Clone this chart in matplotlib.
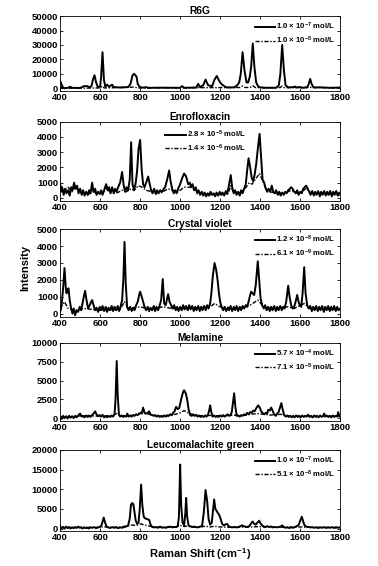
import matplotlib
matplotlib.use('Agg')
import matplotlib.pyplot as plt
import numpy as np

plt.rcParams['font.family'] = 'Liberation Sans'
plt.rcParams['font.weight'] = 'bold'
plt.rcParams['mathtext.fontset'] = 'custom'
plt.rcParams['mathtext.rm'] = 'Liberation Sans:bold'
plt.rcParams['mathtext.bf'] = 'Liberation Sans:bold'
plt.rcParams['mathtext.default'] = 'regular'

# R6G
r6g_hi = [(400, 5000), (405, 3500), (412, 1000), (420, 0), (440, 300), (450, 1000), (460, 300),
          (500, 200), (520, 1500), (535, 1500), (550, 500), (558, 2000), (564, 6000), (572, 9000),
          (580, 4000), (588, 1000), (600, 1000), (605, 8000), (612, 25000), (619, 6000), (626, 1000),
          (635, 2500), (645, 1000), (655, 2000), (660, 2500), (668, 800), (700, 500), (740, 800),
          (752, 3000), (762, 9000), (770, 10000), (776, 9000), (782, 8000), (788, 3000), (798, 800),
          (820, 400), (830, 800), (840, 300), (900, 400), (1000, 300), (1010, 1500), (1020, 300),
          (1080, 500), (1090, 3000), (1100, 800), (1115, 2000), (1127, 6000), (1140, 2000),
          (1160, 1500), (1172, 6000), (1183, 8500), (1192, 6000), (1200, 4000), (1210, 2500),
          (1230, 600), (1270, 600), (1285, 2000), (1295, 4000), (1303, 10000), (1312, 25000),
          (1322, 12000), (1332, 4000), (1340, 4000), (1348, 8000), (1355, 15000), (1363, 31000),
          (1371, 15000), (1380, 4000), (1392, 800), (1420, 300), (1480, 300), (1493, 2000),
          (1501, 10000), (1510, 30000), (1519, 12000), (1527, 2000), (1540, 600), (1570, 800),
          (1575, 1200), (1580, 500), (1600, 800), (1610, 300), (1635, 600), (1643, 3000),
          (1650, 6500), (1657, 3000), (1667, 500), (1700, 600), (1750, 300), (1800, 500)]
r6g_lo = [(400, 800), (420, 0), (600, 200), (612, 1500), (620, 200), (770, 800), (790, 200),
          (1300, 500), (1312, 1500), (1325, 500), (1350, 600), (1363, 1800), (1375, 500),
          (1500, 500), (1510, 1500), (1520, 400), (1650, 600), (1800, 200)]

# Enrofloxacin
enro_hi = [(400, 1000), (405, 400), (410, 700), (418, 200), (425, 600), (432, 300), (440, 500),
           (448, 150), (455, 700), (462, 500), (470, 1000), (478, 600), (485, 800), (492, 300),
           (500, 600), (508, 200), (515, 500), (522, 150), (530, 400), (538, 200), (545, 500),
           (552, 300), (560, 1000), (567, 400), (575, 600), (582, 200), (590, 400), (598, 250),
           (605, 500), (612, 200), (620, 500), (630, 900), (638, 500), (645, 700), (652, 300),
           (660, 700), (668, 300), (675, 600), (682, 400), (690, 700), (700, 1000), (710, 1700),
           (718, 800), (725, 400), (732, 700), (740, 500), (748, 1200), (755, 3650), (762, 900),
           (770, 500), (778, 1000), (785, 1800), (792, 3200), (800, 3800), (808, 1800), (815, 900),
           (822, 700), (830, 1000), (840, 1400), (848, 900), (855, 500), (862, 300), (870, 600),
           (878, 250), (885, 500), (892, 300), (900, 500), (910, 400), (918, 600), (925, 700),
           (935, 1200), (945, 1800), (952, 1100), (960, 600), (968, 300), (975, 500), (982, 300),
           (990, 600), (1000, 900), (1010, 1300), (1020, 1600), (1030, 1400), (1040, 900),
           (1048, 1000), (1055, 700), (1062, 900), (1070, 500), (1078, 700), (1085, 300),
           (1092, 500), (1100, 200), (1108, 400), (1115, 150), (1122, 350), (1130, 100),
           (1138, 300), (1145, 150), (1152, 400), (1160, 200), (1168, 300), (1175, 100),
           (1182, 350), (1190, 150), (1198, 400), (1205, 200), (1212, 350), (1220, 150),
           (1228, 450), (1235, 250), (1242, 700), (1253, 1500), (1260, 700), (1268, 300),
           (1275, 500), (1282, 200), (1290, 400), (1298, 150), (1305, 500), (1312, 300),
           (1320, 600), (1328, 900), (1335, 1800), (1342, 2600), (1350, 2000), (1358, 1300),
           (1365, 1100), (1372, 1500), (1380, 2200), (1388, 3200), (1397, 4200), (1405, 2600),
           (1412, 1200), (1420, 1000), (1428, 600), (1435, 400), (1442, 600), (1450, 400),
           (1458, 800), (1465, 400), (1472, 300), (1480, 500), (1488, 200), (1495, 400),
           (1502, 150), (1510, 350), (1518, 200), (1525, 400), (1532, 300), (1540, 500),
           (1548, 600), (1555, 700), (1562, 600), (1570, 400), (1578, 300), (1585, 500),
           (1592, 200), (1600, 400), (1608, 300), (1615, 600), (1622, 700), (1630, 800),
           (1638, 600), (1645, 400), (1652, 200), (1660, 450), (1668, 150), (1675, 400),
           (1682, 200), (1690, 450), (1698, 100), (1705, 400), (1712, 200), (1720, 450),
           (1728, 150), (1735, 400), (1742, 200), (1750, 450), (1758, 100), (1765, 400),
           (1772, 200), (1780, 450), (1788, 150), (1795, 350), (1800, 200)]
enro_lo = [(400, 600), (420, 500), (440, 700), (460, 400), (475, 700), (490, 500), (510, 300),
           (540, 200), (560, 500), (580, 300), (610, 300), (630, 600), (650, 400), (680, 300),
           (710, 500), (730, 400), (755, 600), (770, 500), (790, 800), (810, 700), (830, 500),
           (860, 400), (900, 300), (940, 600), (960, 500), (990, 400), (1020, 700), (1050, 700),
           (1080, 500), (1110, 300), (1150, 200), (1200, 200), (1240, 300), (1253, 800),
           (1265, 400), (1300, 300), (1330, 700), (1345, 1000), (1360, 900), (1375, 1200),
           (1397, 1600), (1410, 1200), (1425, 700), (1450, 400), (1480, 300), (1520, 300),
           (1555, 500), (1590, 300), (1630, 600), (1660, 300), (1700, 300), (1750, 250), (1800, 250)]

# Crystal violet
cv_hi = [(400, 100), (405, 300), (410, 800), (415, 1500), (422, 2700), (428, 1600), (432, 1200),
         (437, 1400), (442, 1500), (448, 800), (455, 300), (462, 0), (468, 300), (475, -100),
         (482, 200), (490, 100), (498, 400), (505, 200), (512, 600), (520, 1100), (525, 1350),
         (532, 800), (540, 300), (548, 500), (555, 700), (560, 800), (567, 500), (575, 200),
         (582, 350), (590, 100), (598, 400), (605, 200), (612, 450), (620, 150), (628, 400),
         (635, 100), (642, 350), (650, 200), (658, 450), (665, 150), (672, 400), (680, 200),
         (688, 450), (695, 150), (702, 400), (710, 800), (716, 2000), (722, 4250), (728, 1800),
         (735, 400), (742, 200), (750, 400), (758, 150), (765, 350), (772, 200), (780, 500),
         (788, 700), (795, 1100), (800, 1300), (808, 1000), (815, 700), (822, 400), (830, 200),
         (838, 400), (845, 150), (852, 350), (860, 200), (868, 450), (875, 150), (882, 400),
         (890, 200), (898, 500), (905, 800), (913, 2050), (920, 600), (928, 500), (935, 900),
         (940, 1150), (947, 700), (955, 500), (962, 300), (970, 500), (978, 200), (985, 400),
         (992, 150), (1000, 400), (1008, 200), (1015, 500), (1022, 250), (1030, 450), (1038, 200),
         (1045, 500), (1052, 250), (1060, 450), (1068, 150), (1075, 400), (1082, 200), (1090, 450),
         (1098, 150), (1105, 400), (1112, 200), (1120, 450), (1128, 200), (1135, 500), (1142, 300),
         (1150, 600), (1156, 1200), (1163, 2200), (1172, 3000), (1180, 2600), (1187, 2000),
         (1194, 1200), (1200, 700), (1207, 400), (1215, 200), (1222, 400), (1230, 150),
         (1238, 350), (1245, 200), (1252, 450), (1260, 150), (1268, 400), (1275, 200), (1282, 450),
         (1290, 150), (1298, 400), (1305, 200), (1312, 450), (1320, 300), (1328, 500), (1335, 400),
         (1342, 700), (1350, 1100), (1355, 1300), (1362, 1200), (1370, 1100), (1378, 1700),
         (1388, 3100), (1395, 2000), (1402, 900), (1410, 500), (1418, 300), (1425, 500),
         (1432, 200), (1440, 400), (1448, 150), (1455, 400), (1462, 200), (1470, 450), (1478, 150),
         (1485, 400), (1492, 200), (1500, 450), (1508, 200), (1515, 400), (1522, 300), (1530, 700),
         (1535, 1200), (1540, 1650), (1547, 1000), (1555, 500), (1562, 300), (1570, 400),
         (1577, 700), (1585, 1100), (1592, 700), (1598, 500), (1605, 400), (1612, 1200),
         (1620, 2750), (1627, 1200), (1635, 500), (1642, 300), (1650, 450), (1658, 150),
         (1665, 400), (1672, 200), (1680, 450), (1688, 150), (1695, 400), (1702, 200), (1710, 450),
         (1718, 100), (1725, 400), (1732, 200), (1740, 450), (1748, 150), (1755, 400), (1762, 200),
         (1770, 450), (1778, 150), (1785, 400), (1792, 200), (1800, 300)]
cv_lo = [(400, 300), (422, 700), (440, 300), (480, 200), (520, 300), (560, 250), (600, 200),
         (700, 250), (722, 700), (740, 300), (800, 400), (850, 250), (913, 400), (960, 300),
         (1050, 300), (1150, 400), (1172, 600), (1200, 400), (1300, 300), (1350, 500),
         (1388, 800), (1410, 500), (1450, 300), (1540, 400), (1570, 300), (1620, 600),
         (1650, 300), (1720, 250), (1800, 250)]

# Melamine
mel_hi = [(400, 200), (408, -100), (415, 300), (422, 0), (430, 250), (438, -50), (445, 300),
          (452, 50), (460, 250), (468, 0), (475, 300), (482, 100), (490, 350), (500, 600),
          (508, 200), (515, 300), (522, 100), (530, 350), (538, 150), (545, 350), (552, 150),
          (560, 400), (567, 600), (575, 900), (582, 500), (590, 250), (598, 400), (605, 200),
          (612, 450), (620, 100), (628, 300), (635, 100), (642, 300), (650, 150), (658, 350),
          (665, 200), (672, 500), (677, 2500), (683, 7600), (688, 3000), (694, 500), (700, 200),
          (708, 350), (715, 150), (722, 300), (730, 200), (736, 600), (742, 200), (750, 350),
          (758, 200), (765, 400), (772, 300), (780, 500), (788, 400), (795, 600), (802, 700),
          (810, 800), (815, 1400), (822, 700), (830, 600), (838, 700), (845, 900), (852, 500),
          (860, 400), (868, 300), (875, 400), (882, 200), (890, 350), (898, 150), (905, 300),
          (912, 150), (920, 350), (928, 200), (935, 400), (942, 300), (950, 500), (958, 400),
          (965, 700), (972, 900), (980, 1500), (988, 1200), (995, 1300), (1005, 2500),
          (1015, 3500), (1020, 3700), (1028, 3300), (1035, 2500), (1042, 1200), (1050, 400),
          (1058, 300), (1065, 500), (1072, 300), (1080, 450), (1088, 200), (1095, 350),
          (1102, 150), (1110, 300), (1118, 150), (1125, 350), (1132, 200), (1140, 500),
          (1145, 1000), (1150, 1700), (1155, 900), (1162, 200), (1170, 350), (1178, 150),
          (1185, 300), (1192, 150), (1200, 350), (1208, 200), (1215, 400), (1222, 200),
          (1230, 350), (1238, 500), (1245, 300), (1252, 400), (1258, 800), (1265, 2200),
          (1270, 3300), (1276, 1500), (1283, 300), (1290, 350), (1298, 200), (1305, 400),
          (1312, 300), (1320, 500), (1328, 400), (1335, 700), (1342, 500), (1350, 800),
          (1358, 700), (1365, 1000), (1372, 900), (1380, 1300), (1390, 1700), (1398, 1400),
          (1405, 900), (1412, 700), (1420, 500), (1428, 700), (1435, 600), (1440, 1100),
          (1448, 1000), (1455, 1400), (1462, 1000), (1470, 500), (1478, 300), (1485, 600),
          (1492, 800), (1500, 1500), (1506, 2000), (1512, 1200), (1520, 400), (1528, 200),
          (1535, 350), (1542, 150), (1550, 300), (1558, 100), (1565, 300), (1572, 100),
          (1580, 350), (1588, 150), (1595, 300), (1602, 100), (1610, 350), (1618, 150),
          (1625, 300), (1632, 200), (1640, 450), (1648, 150), (1655, 300), (1662, 100),
          (1670, 350), (1678, 150), (1685, 300), (1692, 100), (1700, 350), (1708, 150),
          (1715, 300), (1720, 600), (1725, 200), (1732, 350), (1740, 150), (1748, 300),
          (1755, 100), (1762, 350), (1770, 150), (1778, 300), (1785, 200), (1790, 800),
          (1795, 200), (1800, 350)]
mel_lo = [(400, 200), (450, 150), (500, 300), (560, 300), (600, 250), (650, 300), (683, 600),
          (700, 300), (750, 300), (800, 600), (830, 600), (860, 400), (900, 250), (950, 300),
          (1000, 700), (1020, 1000), (1040, 700), (1080, 300), (1150, 350), (1200, 300),
          (1270, 400), (1300, 300), (1350, 500), (1390, 600), (1420, 500), (1450, 400),
          (1505, 500), (1530, 300), (1600, 250), (1700, 250), (1800, 250)]

# Leucomalachite green
lmg_hi = [(400, 500), (408, 100), (415, 400), (422, 0), (430, 500), (438, 100), (445, 400),
          (452, 0), (460, 300), (468, 100), (475, 400), (482, 150), (490, 500), (498, 200),
          (505, 300), (512, 0), (520, 300), (528, 100), (535, 250), (542, 0), (550, 300),
          (560, 200), (570, 350), (580, 100), (590, 300), (600, 400), (608, 1000), (618, 2800),
          (625, 1500), (632, 500), (640, 300), (650, 150), (660, 350), (670, 200), (680, 300),
          (690, 100), (700, 300), (710, 200), (720, 400), (730, 500), (740, 800), (748, 2500),
          (754, 6000), (760, 6500), (766, 6200), (772, 4000), (778, 2000), (785, 1200),
          (792, 1500), (798, 5000), (805, 11200), (811, 6000), (818, 3000), (825, 2600),
          (835, 2400), (845, 2200), (852, 1000), (860, 400), (870, 300), (880, 350), (890, 200),
          (900, 500), (910, 200), (920, 300), (930, 200), (940, 400), (950, 500), (960, 300),
          (970, 400), (980, 400), (988, 600), (994, 3000), (1000, 16300), (1005, 6000),
          (1012, 1500), (1020, 800), (1026, 4000), (1030, 7800), (1035, 3000), (1042, 800),
          (1050, 600), (1060, 400), (1070, 500), (1080, 350), (1090, 300), (1100, 500),
          (1110, 800), (1118, 4000), (1127, 9800), (1135, 7000), (1142, 2500), (1150, 1000),
          (1158, 1500), (1165, 5000), (1170, 7400), (1176, 5000), (1182, 4500), (1188, 4000),
          (1195, 3500), (1202, 2500), (1210, 1200), (1218, 800), (1225, 1000), (1235, 1200),
          (1242, 600), (1250, 400), (1260, 300), (1270, 400), (1280, 300), (1290, 350),
          (1300, 600), (1310, 800), (1318, 600), (1325, 500), (1335, 400), (1345, 600),
          (1355, 1300), (1362, 1800), (1370, 1200), (1378, 1000), (1386, 1500), (1395, 2000),
          (1402, 1300), (1410, 800), (1418, 500), (1425, 400), (1435, 600), (1445, 400),
          (1455, 500), (1465, 300), (1475, 400), (1485, 300), (1495, 400), (1505, 600),
          (1510, 800), (1518, 400), (1525, 200), (1535, 300), (1545, 150), (1555, 300),
          (1565, 200), (1575, 400), (1585, 700), (1592, 900), (1600, 2000), (1608, 3000),
          (1615, 1800), (1622, 800), (1630, 500), (1640, 400), (1650, 300), (1660, 350),
          (1670, 200), (1680, 300), (1690, 150), (1700, 300), (1710, 200), (1720, 350),
          (1730, 150), (1740, 300), (1750, 200), (1760, 350), (1770, 150), (1780, 300),
          (1790, 200), (1800, 300)]
lmg_lo = [(400, 300), (450, 250), (500, 300), (600, 300), (618, 500), (640, 300), (700, 400),
          (740, 700), (760, 900), (780, 800), (805, 1200), (820, 900), (860, 500), (900, 300),
          (980, 400), (1000, 800), (1020, 500), (1030, 600), (1060, 400), (1100, 400),
          (1127, 600), (1150, 400), (1170, 600), (1200, 400), (1260, 300), (1350, 400),
          (1395, 500), (1450, 300), (1608, 400), (1650, 300), (1800, 300)]

titles = ['R6G', 'Enrofloxacin', 'Crystal violet', 'Melamine', 'Leucomalachite green']
labels_hi = [r'1.0 $\times$ 10$^{-7}$ mol/L', r'2.8 $\times$ 10$^{-5}$ mol/L',
             r'1.2 $\times$ 10$^{-8}$ mol/L', r'5.7 $\times$ 10$^{-4}$ mol/L',
             r'1.0 $\times$ 10$^{-7}$ mol/L']
labels_lo = [r'1.0 $\times$ 10$^{-8}$ mol/L', r'1.4 $\times$ 10$^{-6}$ mol/L',
             r'6.1 $\times$ 10$^{-9}$ mol/L', r'7.1 $\times$ 10$^{-5}$ mol/L',
             r'5.1 $\times$ 10$^{-8}$ mol/L']
y_limits = [(-2000, 50000), (-200, 5000), (-200, 5000), (-400, 10000), (-600, 20000)]
y_ticks = [np.arange(0, 50001, 10000), np.arange(0, 5001, 1000), np.arange(0, 5001, 1000),
           np.arange(0, 10001, 2500), np.arange(0, 20001, 5000)]
x_ticks = np.arange(400, 1801, 200)

series = [(r6g_hi, r6g_lo), (enro_hi, enro_lo), (cv_hi, cv_lo), (mel_hi, mel_lo), (lmg_hi, lmg_lo)]

# axes boxes (left, bottom, width, height) in figure fractions
boxes = [(0.159, 0.839, 0.741, 0.1325),
         (0.159, 0.645, 0.741, 0.140),
         (0.159, 0.440, 0.741, 0.155),
         (0.159, 0.256, 0.741, 0.138),
         (0.159, 0.062, 0.741, 0.143)]

fig = plt.figure(figsize=(3.78, 5.66), dpi=100)

for i, (hi, lo) in enumerate(series):
    ax = fig.add_axes(boxes[i])
    hx, hy = np.array(hi).T
    lx, ly = np.array(lo).T
    ax.plot(hx, hy, '-', color='black', lw=1.4, label=labels_hi[i])
    ax.plot(lx, ly, color='black', lw=1.0, dashes=(3, 1.2, 1, 1.2), label=labels_lo[i])
    ax.set_xlim(400, 1800)
    ax.set_ylim(*y_limits[i])
    ax.set_xticks(x_ticks)
    ax.set_yticks(y_ticks[i])
    ax.tick_params(direction='in', top=True, right=True, length=2.5, width=0.6,
                   labelsize=6.8, pad=1.5)
    for lab in ax.get_xticklabels() + ax.get_yticklabels():
        lab.set_fontweight('bold')
    for s in ax.spines.values():
        s.set_linewidth(0.6)
    ax.set_title(titles[i], fontsize=7.3, fontweight='bold', pad=1.5)
    if i == 1:
        leg = ax.legend(loc='upper center', bbox_to_anchor=(0.52, 0.97), frameon=False,
                        fontsize=5.6, handlelength=2.6, handletextpad=0.15,
                        labelspacing=0.3, borderaxespad=0.2)
    else:
        leg = ax.legend(loc='upper right', frameon=False, fontsize=5.6, handlelength=2.6,
                        handletextpad=0.15, labelspacing=0.3, borderaxespad=0.2)
    for t in leg.get_texts():
        t.set_fontweight('bold')

fig.text(0.066, 0.526, 'Intensity', rotation=90, ha='center', va='center',
         fontsize=8, fontweight='bold')
fig.text(0.53, 0.021, r'Raman Shift (cm$^{-1}$)', ha='center', va='center',
         fontsize=8, fontweight='bold')

fig.savefig('out.png', dpi=100)
